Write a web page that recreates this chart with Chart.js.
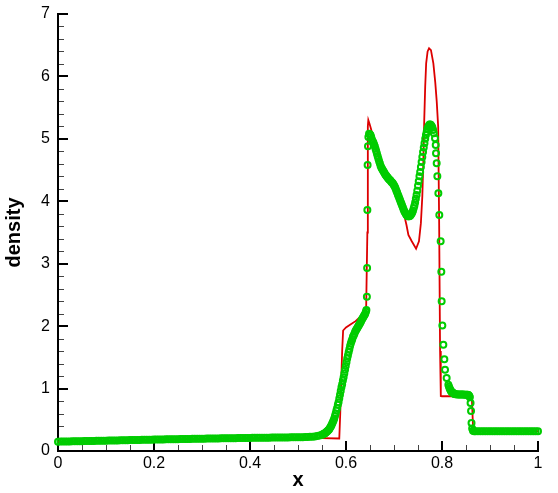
<!DOCTYPE html>
<html>
<head>
<meta charset="utf-8">
<style>
  html, body { margin: 0; padding: 0; background: #ffffff; }
  canvas { display: block; }
</style>
<script src="https://cdn.jsdelivr.net/npm/chart.js@4.4.1/dist/chart.umd.min.js"></script>
</head>
<body>
<canvas id="c" width="558" height="493"></canvas>
<script>
// ---------------- data ----------------
const xTickValues = [0, 0.2, 0.4, 0.6, 0.8, 1];
const xTickLabels = ['0', '0.2', '0.4', '0.6', '0.8', '1'];
const xMinorTicks = [0.05, 0.1, 0.15, 0.25, 0.3, 0.35, 0.45, 0.5, 0.55, 0.65, 0.7, 0.75, 0.85, 0.9, 0.95];
const yTickValues = [0, 1, 2, 3, 4, 5, 6, 7];
const yTickLabels = ['0', '1', '2', '3', '4', '5', '6', '7'];
const yMinorTicks = [0.2, 0.4, 0.6, 0.8, 1.2, 1.4, 1.6, 1.8, 2.2, 2.4, 2.6, 2.8, 3.2, 3.4, 3.6, 3.8,
                     4.2, 4.4, 4.6, 4.8, 5.2, 5.4, 5.6, 5.8, 6.2, 6.4, 6.6, 6.8];
const xTitle = 'x';
const yTitle = 'density';

// reference solution (red line)
const redLine = [
  [0, 0.148], [0.1, 0.163], [0.2, 0.18], [0.3, 0.193], [0.4, 0.203], [0.5, 0.21], [0.55, 0.205],
  [0.586, 0.2], [0.588, 0.6], [0.592, 1.6], [0.594, 1.93], [0.6, 1.98], [0.61, 2.03], [0.62, 2.08],
  [0.63, 2.15], [0.638, 2.22], [0.642, 2.3], [0.6445, 3.5], [0.6455, 5.2], [0.6465, 5.3], [0.649, 5.24],
  [0.652, 5.16], [0.656, 5.05], [0.66, 4.93], [0.665, 4.8], [0.67, 4.66], [0.675, 4.55], [0.68, 4.47],
  [0.69, 4.36], [0.7, 4.25], [0.71, 4.02], [0.718, 3.85], [0.723, 3.72], [0.726, 3.62], [0.73, 3.46],
  [0.737, 3.36], [0.746, 3.24], [0.752, 3.36], [0.756, 3.65], [0.759, 4.08], [0.761, 4.6], [0.763, 5.3],
  [0.765, 5.84], [0.767, 6.21], [0.77, 6.4], [0.773, 6.45], [0.777, 6.42], [0.782, 6.21], [0.786, 5.9],
  [0.789, 5.6], [0.792, 5.2], [0.794, 3.7], [0.796, 1.6], [0.7975, 0.88], [0.8, 0.877], [0.83, 0.877],
  [0.862, 0.877], [0.8635, 0.6], [0.865, 0.317], [0.9, 0.317], [1.0, 0.317]
];

// numerical solution (green circles)
const greenFlatLeft = [
  [0, 0.150], [0.005, 0.151], [0.01, 0.152], [0.015, 0.152], [0.02, 0.153], [0.025, 0.154], [0.03, 0.155], [0.035, 0.155], [0.04, 0.156], [0.045, 0.157],
  [0.05, 0.158], [0.055, 0.159], [0.06, 0.160], [0.065, 0.160], [0.07, 0.161], [0.075, 0.162], [0.08, 0.163], [0.085, 0.164], [0.09, 0.165], [0.095, 0.165],
  [0.1, 0.166], [0.105, 0.167], [0.11, 0.168], [0.115, 0.169], [0.12, 0.170], [0.125, 0.170], [0.13, 0.171], [0.135, 0.172], [0.14, 0.173], [0.145, 0.174],
  [0.15, 0.175], [0.155, 0.175], [0.16, 0.176], [0.165, 0.177], [0.17, 0.178], [0.175, 0.179], [0.18, 0.180], [0.185, 0.180], [0.19, 0.181], [0.195, 0.182],
  [0.2, 0.183], [0.205, 0.184], [0.21, 0.185], [0.215, 0.185], [0.22, 0.186], [0.225, 0.187], [0.23, 0.188], [0.235, 0.188], [0.24, 0.189], [0.245, 0.190],
  [0.25, 0.190], [0.255, 0.191], [0.26, 0.192], [0.265, 0.193], [0.27, 0.193], [0.275, 0.194], [0.28, 0.195], [0.285, 0.195], [0.29, 0.196], [0.295, 0.197],
  [0.3, 0.197], [0.305, 0.198], [0.31, 0.199], [0.315, 0.199], [0.32, 0.200], [0.325, 0.201], [0.33, 0.201], [0.335, 0.202], [0.34, 0.203], [0.345, 0.203],
  [0.35, 0.204], [0.355, 0.205], [0.36, 0.205], [0.365, 0.206], [0.37, 0.206], [0.375, 0.207], [0.38, 0.208], [0.385, 0.208], [0.39, 0.209], [0.395, 0.209],
  [0.4, 0.210], [0.405, 0.211], [0.41, 0.211], [0.415, 0.212], [0.42, 0.212], [0.425, 0.213], [0.43, 0.213], [0.435, 0.214], [0.44, 0.214], [0.445, 0.215],
  [0.45, 0.215], [0.455, 0.216], [0.46, 0.216], [0.465, 0.217], [0.47, 0.217], [0.475, 0.218], [0.48, 0.218], [0.485, 0.219], [0.49, 0.219], [0.495, 0.220],
  [0.5, 0.220], [0.505, 0.221], [0.51, 0.222], [0.515, 0.223], [0.52, 0.225], [0.525, 0.227], [0.53, 0.230], [0.535, 0.234],
  [0.54, 0.240], [0.545, 0.250], [0.55, 0.262]
];
const greenRise = [
  [0.5515, 0.266], [0.553, 0.272], [0.5545, 0.278], [0.556, 0.286], [0.5575, 0.294], [0.559, 0.303], [0.5605, 0.314],
  [0.562, 0.325], [0.5635, 0.337], [0.565, 0.350], [0.5665, 0.368], [0.568, 0.388], [0.5695, 0.410], [0.571, 0.435],
  [0.5725, 0.460], [0.574, 0.490], [0.5755, 0.52], [0.577, 0.56], [0.5785, 0.60], [0.58, 0.65], [0.5815, 0.69],
  [0.583, 0.74], [0.5845, 0.78], [0.586, 0.84], [0.5875, 0.90], [0.589, 0.96], [0.5905, 1.02], [0.592, 1.07],
  [0.5935, 1.13], [0.595, 1.18], [0.5965, 1.24], [0.598, 1.30], [0.5995, 1.36], [0.601, 1.42], [0.6025, 1.48],
  [0.604, 1.53], [0.6055, 1.58], [0.607, 1.63], [0.6085, 1.68], [0.61, 1.72], [0.6115, 1.76], [0.613, 1.79],
  [0.6145, 1.83], [0.616, 1.85], [0.6175, 1.88], [0.619, 1.91], [0.6205, 1.93], [0.622, 1.95], [0.6235, 1.97],
  [0.625, 1.99], [0.6265, 2.01], [0.628, 2.03], [0.6295, 2.05], [0.631, 2.07], [0.6325, 2.10], [0.634, 2.12],
  [0.6355, 2.14], [0.637, 2.16], [0.6385, 2.18], [0.64, 2.20], [0.6415, 2.23], [0.6425, 2.26]
];
const greenShockLeft = [
  [0.6435, 2.47], [0.644, 2.93], [0.6445, 3.86], [0.645, 4.58], [0.6458, 4.88], [0.6466, 5.03], [0.648, 5.08]
];
const greenPeaks = [
  [0.6495, 5.075], [0.651, 5.06], [0.6525, 5.03], [0.654, 4.99], [0.6555, 4.96], [0.657, 4.94], [0.6585, 4.91],
  [0.66, 4.88], [0.6615, 4.84], [0.663, 4.80], [0.6645, 4.76], [0.666, 4.72], [0.6675, 4.68], [0.669, 4.64],
  [0.6705, 4.61], [0.672, 4.57], [0.6735, 4.54], [0.675, 4.52], [0.6765, 4.50], [0.678, 4.48], [0.6795, 4.46],
  [0.681, 4.44], [0.6825, 4.42], [0.684, 4.41], [0.6855, 4.39], [0.687, 4.38], [0.6885, 4.36], [0.69, 4.35],
  [0.6915, 4.34], [0.693, 4.33], [0.6945, 4.31], [0.696, 4.30], [0.6975, 4.29], [0.699, 4.27], [0.7005, 4.25],
  [0.702, 4.23], [0.7035, 4.20], [0.705, 4.17], [0.7065, 4.14], [0.708, 4.11], [0.7095, 4.08], [0.711, 4.05],
  [0.7125, 4.02], [0.714, 3.99], [0.7155, 3.96], [0.717, 3.93], [0.7185, 3.90], [0.72, 3.87], [0.7215, 3.84],
  [0.723, 3.82], [0.7245, 3.80], [0.726, 3.78], [0.7275, 3.77], [0.729, 3.76], [0.7305, 3.76], [0.732, 3.76],
  [0.7335, 3.77], [0.735, 3.78], [0.7365, 3.80], [0.738, 3.82], [0.7395, 3.85], [0.741, 3.89], [0.7425, 3.93],
  [0.744, 3.98], [0.7455, 4.04], [0.747, 4.10], [0.7485, 4.17], [0.75, 4.25], [0.7515, 4.32], [0.753, 4.40],
  [0.7545, 4.47], [0.756, 4.55], [0.7575, 4.63], [0.759, 4.71], [0.7605, 4.79], [0.762, 4.86], [0.7635, 4.93],
  [0.765, 5.00], [0.7665, 5.06], [0.768, 5.11], [0.7695, 5.16], [0.771, 5.19], [0.7725, 5.21], [0.774, 5.23],
  [0.7755, 5.23], [0.777, 5.22], [0.7785, 5.20], [0.78, 5.18], [0.7815, 5.14], [0.783, 5.09]
];
const greenShockRight = [
  [0.7854, 5.01], [0.7869, 4.90], [0.7875, 4.77], [0.7889, 4.61], [0.7903, 4.40], [0.7924, 4.13], [0.7944, 3.78],
  [0.7972, 3.36], [0.7986, 2.87], [0.7993, 2.40], [0.8007, 2.01], [0.8028, 1.70], [0.8049, 1.47], [0.8063, 1.30],
  [0.8097, 1.17], [0.8132, 1.06], [0.8146, 1.03], [0.816, 1.0], [0.8173, 0.98], [0.8185, 0.96], [0.8198, 0.95],
  [0.821, 0.94], [0.8223, 0.932], [0.8235, 0.925], [0.8248, 0.92], [0.826, 0.915], [0.828, 0.911], [0.83, 0.908],
  [0.8325, 0.906], [0.835, 0.905], [0.8375, 0.904], [0.84, 0.904], [0.8425, 0.904], [0.845, 0.904], [0.8475, 0.903],
  [0.85, 0.903], [0.852, 0.902], [0.8535, 0.90], [0.855, 0.896], [0.856, 0.89], [0.857, 0.878], [0.858, 0.86],
  [0.8595, 0.77], [0.8605, 0.64], [0.8615, 0.45], [0.8628, 0.36], [0.8645, 0.325], [0.867, 0.318]
];
const greenFlatRight = [
  [0.87, 0.317], [0.875, 0.317], [0.88, 0.317], [0.885, 0.317], [0.89, 0.317], [0.895, 0.317], [0.9, 0.317],
  [0.905, 0.317], [0.91, 0.317], [0.915, 0.317], [0.92, 0.317], [0.925, 0.317], [0.93, 0.317], [0.935, 0.317],
  [0.94, 0.317], [0.945, 0.317], [0.95, 0.317], [0.955, 0.317], [0.96, 0.317], [0.965, 0.317], [0.97, 0.317],
  [0.975, 0.317], [0.98, 0.317], [0.985, 0.317], [0.99, 0.317], [0.995, 0.317], [1.0, 0.317]
];

// ---------------- chart ----------------
const FONT = "'Liberation Sans', Arial, Helvetica, sans-serif";
const toXY = arr => arr.map(p => ({ x: p[0], y: p[1] }));
const greenAll = [].concat(greenFlatLeft, greenRise, greenShockLeft, greenPeaks, greenShockRight, greenFlatRight);

function labelFor(values, labels, v) {
  const i = values.findIndex(t => Math.abs(t - v) < 1e-6);
  return i >= 0 ? labels[i] : '';
}

const tecAxes = {
  id: 'tecAxes',
  beforeDatasetsDraw(chart) {
    const { ctx, chartArea } = chart;
    const xs = chart.scales.x, ys = chart.scales.y;
    const L = chartArea.left, B = chartArea.bottom;
    const seg = (x1, y1, x2, y2) => { ctx.beginPath(); ctx.moveTo(x1, y1); ctx.lineTo(x2, y2); ctx.stroke(); };
    ctx.save();
    ctx.strokeStyle = '#444';
    ctx.lineWidth = 1;
    xMinorTicks.forEach(v => { const p = Math.round(xs.getPixelForValue(v)) + 0.5; seg(p, B, p, B - 6); });
    yMinorTicks.forEach(v => { const p = Math.round(ys.getPixelForValue(v)) + 0.5; seg(L, p, L + 6, p); });
    ctx.strokeStyle = '#000';
    ctx.lineWidth = 2;
    xTickValues.forEach(v => { const p = Math.round(xs.getPixelForValue(v)); seg(p, B, p, B - 10); });
    yTickValues.forEach(v => { const p = Math.round(ys.getPixelForValue(v)); seg(L, p, L + 10, p); });
    const yTop = Math.round(ys.getPixelForValue(yTickValues[yTickValues.length - 1]));
    const xRight = Math.round(xs.getPixelForValue(xTickValues[xTickValues.length - 1]));
    seg(L, yTop - 1, L, B + 1);
    seg(L - 1, B, xRight + 1, B);
    ctx.restore();
  }
};

new Chart(document.getElementById('c'), {
  type: 'scatter',
  data: {
    datasets: [
      {
        label: 'numerical',
        data: toXY(greenAll),
        showLine: false,
        pointStyle: 'circle',
        pointRadius: 3,
        pointHoverRadius: 3,
        pointBorderWidth: 2,
        pointBorderColor: '#00cc00',
        pointBackgroundColor: 'rgba(0,0,0,0)',
        clip: false
      },
      {
        label: 'reference',
        data: toXY(redLine),
        showLine: true,
        borderColor: '#dd0000',
        borderWidth: 1.8,
        pointRadius: 0,
        pointHoverRadius: 0,
        tension: 0,
        fill: false,
        clip: false
      }
    ]
  },
  options: {
    responsive: false,
    animation: false,
    devicePixelRatio: 1,
    events: [],
    layout: { padding: { top: 14, right: 20, bottom: 0, left: 0 } },
    plugins: { legend: { display: false }, tooltip: { enabled: false } },
    scales: {
      x: {
        type: 'linear',
        min: 0, max: 1,
        grid: { display: false, drawTicks: false },
        border: { display: false },
        ticks: {
          stepSize: 0.2, padding: 3, color: '#000',
          font: { family: FONT, size: 16 },
          maxRotation: 0,
          callback: v => labelFor(xTickValues, xTickLabels, v)
        },
        title: {
          display: true, text: xTitle, color: '#000',
          font: { family: FONT, size: 20, weight: 'bold' },
          padding: { top: 0, bottom: 1 }
        },
        afterFit(s) { s.height = 42; s.paddingLeft = 0; s.paddingRight = 0; }
      },
      y: {
        type: 'linear',
        min: 0, max: 7,
        grid: { display: false, drawTicks: false },
        border: { display: false },
        ticks: {
          stepSize: 1, padding: 8, color: '#000',
          font: { family: FONT, size: 16 },
          callback: v => labelFor(yTickValues, yTickLabels, v)
        },
        title: {
          display: true, text: yTitle, color: '#000',
          font: { family: FONT, size: 20, weight: 'bold' },
          padding: { top: 2, bottom: 0 }
        },
        afterFit(s) { s.width = 58; s.paddingTop = 0; s.paddingBottom = 0; }
      }
    }
  },
  plugins: [tecAxes]
});
</script>
</body>
</html>
